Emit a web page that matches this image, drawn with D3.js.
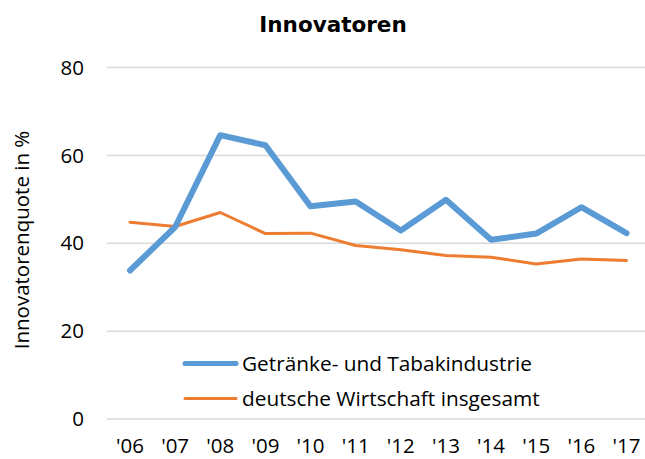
<!DOCTYPE html>
<html>
<head>
<meta charset="utf-8">
<script src="https://cdn.jsdelivr.net/npm/d3@7"></script>
<style>
  body { margin: 0; background: #fff; }
  text { font-family: "Open Sans", "Noto Sans", sans-serif; fill: #000; }
</style>
</head>
<body>
<svg id="chart" width="645" height="459"></svg>
<script>
const years = ["'06", "'07", "'08", "'09", "'10", "'11", "'12", "'13", "'14", "'15", "'16", "'17"];
const getraenke = [33.8, 43.7, 64.6, 62.3, 48.4, 49.5, 42.9, 49.9, 40.8, 42.2, 48.2, 42.3];
const wirtschaft = [44.8, 43.8, 47.0, 42.2, 42.3, 39.5, 38.5, 37.2, 36.8, 35.3, 36.4, 36.1];
const yTicks = [0, 20, 40, 60, 80];
const seriesNames = ["Getränke- und Tabakindustrie", "deutsche Wirtschaft insgesamt"];

const svg = d3.select("#chart");
const fontSize = 20.5;

const x = d3.scalePoint()
    .domain(years)
    .range([130, 626.5]);

const y = d3.scaleLinear()
    .domain([0, 80])
    .range([419, 67.5]);

// gridlines
svg.append("g")
    .selectAll("line")
    .data(yTicks)
    .enter()
    .append("line")
    .attr("x1", 107)
    .attr("x2", 645)
    .attr("y1", d => y(d))
    .attr("y2", d => y(d))
    .attr("stroke", "#d9d9d9")
    .attr("stroke-width", 1.5);

// y tick labels
svg.append("g")
    .selectAll("text")
    .data(yTicks)
    .enter()
    .append("text")
    .attr("x", 84)
    .attr("y", d => y(d))
    .attr("dy", "0.35em")
    .attr("text-anchor", "end")
    .attr("font-size", fontSize)
    .text(d => d);

// x tick labels
svg.append("g")
    .selectAll("text")
    .data(years)
    .enter()
    .append("text")
    .attr("x", d => x(d))
    .attr("y", 446)
    .attr("dy", "0.35em")
    .attr("text-anchor", "middle")
    .attr("font-size", fontSize)
    .text(d => d);

// axis title
svg.append("text")
    .attr("transform", "translate(22,240) rotate(-90)")
    .attr("dy", "0.35em")
    .attr("text-anchor", "middle")
    .attr("font-size", fontSize)
    .text("Innovatorenquote in %");

// chart title
svg.append("text")
    .attr("x", 333)
    .attr("y", 24)
    .attr("dy", "0.35em")
    .attr("text-anchor", "middle")
    .attr("font-size", 21.5)
    .attr("font-weight", "bold")
    .style("font-family", "'DejaVu Sans', Verdana, sans-serif")
    .text("Innovatoren");

const line = d3.line()
    .x((d, i) => x(years[i]))
    .y(d => y(d));

svg.append("path")
    .datum(wirtschaft)
    .attr("d", line)
    .attr("fill", "none")
    .attr("stroke", "#ed7d31")
    .attr("stroke-width", 3)
    .attr("stroke-linejoin", "round")
    .attr("stroke-linecap", "round");

svg.append("path")
    .datum(getraenke)
    .attr("d", line)
    .attr("fill", "none")
    .attr("stroke", "#5b9bd5")
    .attr("stroke-width", 6)
    .attr("stroke-linejoin", "round")
    .attr("stroke-linecap", "round");

// legend
const legend = svg.append("g");
const legendY = [363.5, 398.5];
const legendColors = ["#5b9bd5", "#ed7d31"];
const legendWidths = [5, 3];

legend.selectAll("line")
    .data(seriesNames)
    .enter()
    .append("line")
    .attr("x1", 185)
    .attr("x2", 236)
    .attr("y1", (d, i) => legendY[i])
    .attr("y2", (d, i) => legendY[i])
    .attr("stroke", (d, i) => legendColors[i])
    .attr("stroke-width", (d, i) => legendWidths[i])
    .attr("stroke-linecap", "round");

legend.selectAll("text")
    .data(seriesNames)
    .enter()
    .append("text")
    .attr("x", 242)
    .attr("y", (d, i) => legendY[i])
    .attr("dy", "0.35em")
    .attr("font-size", 20.8)
    .text(d => d);
</script>
</body>
</html>
